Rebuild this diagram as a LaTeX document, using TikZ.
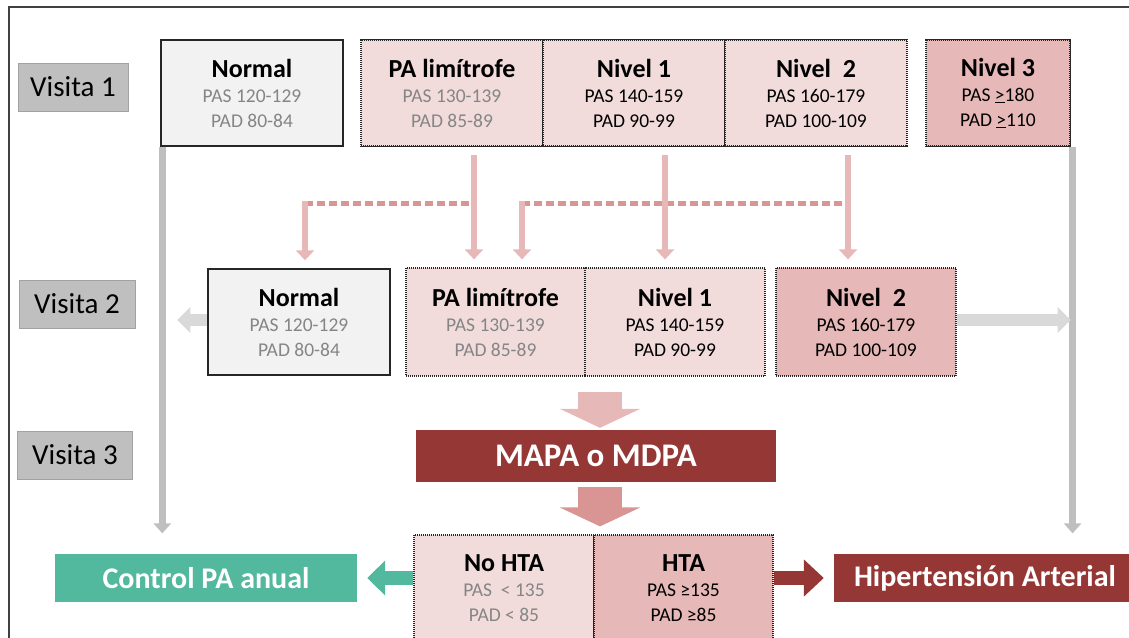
\documentclass[tikz,border=0pt]{standalone}
\usepackage{fontspec}
\setmainfont{Carlito}
\usetikzlibrary{arrows.meta,positioning}

\definecolor{marco}{HTML}{404040}
\definecolor{visgris}{HTML}{BFBFBF}
\definecolor{normfill}{HTML}{F2F2F2}
\definecolor{rosa1}{HTML}{F2DCDB}
\definecolor{rosa2}{HTML}{E6B9B8}
\definecolor{rosa3}{HTML}{D99594}
\definecolor{granate}{HTML}{953735}
\definecolor{verde}{HTML}{52B99E}
\definecolor{txtgris}{HTML}{858585}
\definecolor{flechagris}{HTML}{D9D9D9}

\newcommand{\titulo}[1]{{\fontsize{26}{26}\selectfont\bfseries #1}}
\newcommand{\gris}[1]{\textcolor{txtgris}{#1}}

\begin{document}
\begin{tikzpicture}[x=1pt,y=-1pt,
  visita/.style={fill=visgris, draw=visgris!85!black, line width=0.6pt,
    minimum width=110pt, minimum height=48pt, inner sep=0pt,
    font=\fontsize{29}{29}\selectfont},
  celda/.style={minimum width=182pt, minimum height=106pt, inner sep=0pt,
    align=center, font=\fontsize{19.5}{25}\selectfont},
  punteado/.style={draw=black!85, line width=1.2pt, dash pattern=on 1pt off 1pt},
  solido/.style={draw=black!85, line width=1.4pt},
  rotulo/.style={minimum width=302pt, minimum height=48pt, inner sep=0pt,
    text=white, font=\fontsize{30}{30}\selectfont\bfseries},
  linea/.style={draw=visgris, line width=7pt, -{Triangle[length=10pt,width=17pt]}},
  fina/.style={draw=rosa2, line width=6pt, -{Triangle[length=10pt,width=18pt]}, shorten >=8pt},
  discont/.style={draw=rosa3, line width=5pt, dash pattern=on 8pt off 4pt},
  gruesa/.style={line width=44pt, -{Triangle[length=19pt,width=80pt]}},
  lateral/.style={draw=flechagris, line width=12pt, -{Triangle[length=13pt,width=25pt]}}]

\useasboundingbox (0,0) rectangle (1129,637);

%%%%% marco %%%%%
\draw[marco, line width=2pt] (9,640) -- (9,7) -- (1132,7);

%%%%% visitas %%%%%
\node[visita] (v1) at (73,87) {Visita 1};
\node[visita, minimum width=116pt] (v2) at (77,304) {Visita 2};
\node[visita, minimum width=115pt] (v3) at (75,455) {Visita 3};

%%%%% visita 1 %%%%%
\node[celda, fill=normfill, solido] (nor1) at (252,93)
  {\titulo{Normal}\\\gris{PAS 120-129}\\\gris{PAD 80-84}};
\node[celda, fill=rosa1, punteado] (lim1) at (452,93)
  {\titulo{PA limítrofe}\\\gris{PAS 130-139}\\\gris{PAD 85-89}};
\node[celda, fill=rosa1, punteado] (niv11) at (634,93)
  {\titulo{Nivel 1}\\PAS 140-159\\PAD 90-99};
\node[celda, fill=rosa1, punteado] (niv21) at (816,93)
  {\titulo{Nivel\ \ 2}\\PAS 160-179\\PAD 100-109};
\node[celda, fill=rosa2, punteado, minimum width=144pt] (niv31) at (998,93)
  {\titulo{Nivel 3}\\PAS \underline{>}180\\PAD \underline{>}110};
\draw[solido] (lim1.north west) -- (niv21.north east);
\draw[solido] (lim1.south west) -- (niv21.south east);
\draw[solido] (niv31.north west) -- (niv31.north east) -- (niv31.south east) -- (niv31.south west);

%%%%% visita 2 %%%%%
\node[celda, fill=normfill, solido] (nor2) at (299,322)
  {\titulo{Normal}\\\gris{PAS 120-129}\\\gris{PAD 80-84}};
\node[celda, fill=rosa1, punteado, minimum width=179pt, minimum height=108pt] (lim2) at (495.5,322)
  {\titulo{PA limítrofe}\\\gris{PAS 130-139}\\\gris{PAD 85-89}};
\node[celda, fill=rosa1, punteado, minimum width=180pt, minimum height=108pt] (niv12) at (675,322)
  {\titulo{Nivel 1}\\PAS 140-159\\PAD 90-99};
\node[celda, fill=rosa2, punteado, minimum width=180pt, minimum height=108pt] (niv22) at (866,322)
  {\titulo{Nivel\ \ 2}\\PAS 160-179\\PAD 100-109};

%%%%% visita 3 %%%%%
\node[fill=granate, minimum width=360pt, minimum height=52pt, inner sep=0pt,
  text=white, font=\fontsize{33}{33}\selectfont\bfseries] (map) at (596,456) {MAPA o MDPA};
\node[celda, fill=rosa1, punteado, minimum width=180pt] (nohta) at (504,588)
  {\titulo{No HTA}\\\gris{PAS\ \ < 135}\\\gris{PAD < 85}};
\node[celda, fill=rosa2, punteado, minimum width=179pt] (hta) at (683.5,588)
  {\titulo{HTA}\\PAS ≥135\\PAD ≥85};
\node[rotulo, fill=verde] (ctrl) at (206,578) {Control PA anual};
\node[rotulo, fill=granate] (hiper) at (985,578) {Hipertensión Arterial};

%%%%% flechas %%%%%
\draw[linea] ([xshift=2pt]nor1.south west) -- ([xshift=2pt,yshift=1pt]nor1.south west |- nohta.north);
\draw[linea] ([xshift=2pt]niv31.south east) -- ([xshift=2pt,yshift=1pt]niv31.south east |- nohta.north);

\coordinate (d1) at (474,155);
\coordinate (d2) at (665,155);
\coordinate (d3) at (848,155);
\coordinate (h1) at (305,203);
\coordinate (h2) at (522,203);
\draw[discont] (h1) -- (h1 -| d1);
\draw[discont] (h2) -- (h2 -| d3);
\draw[fina] (d1) -- (d1 |- lim2.north);
\draw[fina] (d2) -- (d2 |- niv12.north);
\draw[fina] (d3) -- (d3 |- niv22.north);
\draw[fina] ([yshift=2pt]h1) -- (h1 |- nor2.north);
\draw[fina] ([yshift=2pt]h2) -- (h2 |- lim2.north);

\draw[lateral] ([yshift=2pt]nor2.west) -- ++(-30,0);
\draw[lateral] ([yshift=2pt]niv22.east) -- ++(114,0);

\draw[gruesa, draw=rosa2] ([xshift=4pt,yshift=38pt]map.north) -- ([xshift=4pt,yshift=2pt]map.north);
\draw[gruesa, draw=rosa3] ([xshift=4pt,yshift=-5pt]map.south) -- ([xshift=4pt,yshift=8pt]map.south |- nohta.north);

\draw[draw=verde, line width=14pt, -{Triangle[length=18pt,width=34pt]}, shorten >=10pt]
  (nohta.west |- ctrl) -- (ctrl.east);
\draw[draw=granate, line width=14pt, -{Triangle[length=20pt,width=36pt]}, shorten >=10pt]
  (hta.east |- hiper) -- (hiper.west);

\end{tikzpicture}
\end{document}
